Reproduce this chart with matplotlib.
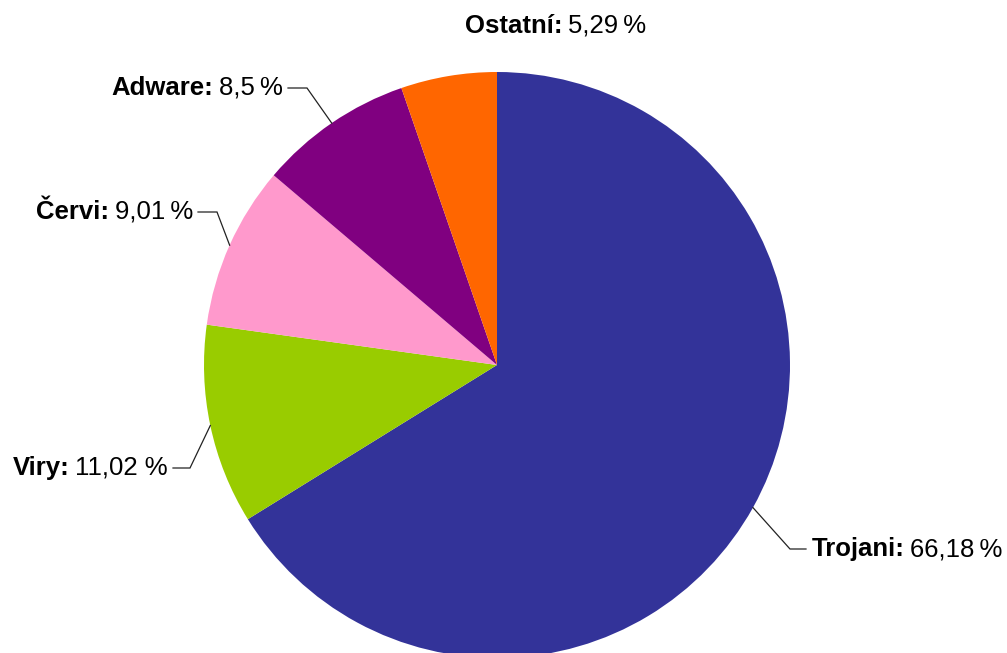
import numpy as np
import matplotlib.pyplot as plt

plt.rcParams['font.family'] = ['Liberation Sans', 'DejaVu Sans']

categories = ["Trojani", "Viry", "Červi", "Adware", "Ostatní"]
shares = [66.18, 11.02, 9.01, 8.5, 5.29]
value_labels = ["66,18\u202f%", "11,02 %", "9,01\u202f%", "8,5\u202f%", "5,29\u202f%"]
colors = ["#333399", "#99cc00", "#ff99cc", "#800080", "#ff6600"]

W, H = 1007, 653
CX, CY, R = 497, 365, 293   # pixels, y measured from top
FS = 18.5

# label layout in pixels (y from top): elbow point, end of horizontal tick, text side
label_layout = {
    "Trojani": ((790, 549), 806, "left"),
    "Viry": ((190, 468), 173, "right"),
    "Červi": ((217, 212), 198, "right"),
    "Adware": ((307, 88), 288, "right"),
    "Ostatní": (None, 562, "center"),
}
ostatni_y = 26


def fy(y):
    return H - y


fig = plt.figure(figsize=(W / 100, H / 100), dpi=100)
ax = fig.add_axes([0, 0, 1, 1])

wedges, _ = ax.pie(shares, colors=colors, startangle=90, counterclock=False,
                   center=(CX, fy(CY)), radius=R, wedgeprops=dict(linewidth=0))
ax.set_xlim(0, W)
ax.set_ylim(0, H)
ax.set_aspect('equal')
ax.axis('off')

for w, cat, val in zip(wedges, categories, value_labels):
    elbow, tick_end, side = label_layout[cat]
    if side == "center":
        ty = fy(ostatni_y) - 7
        lab = ax.text(tick_end, ty, cat + ":", ha="right", va="baseline",
                      fontsize=FS, weight="bold")
        ax.annotate(val, xy=(1, 0), xycoords=lab, xytext=(4, 0),
                    textcoords="offset points", ha="left", va="bottom", fontsize=FS)
        continue
    mid = np.deg2rad((w.theta1 + w.theta2) / 2)
    sx = CX + R * np.cos(mid)
    sy = fy(CY) + R * np.sin(mid)
    ex, ey = elbow[0], fy(elbow[1])
    ax.plot([sx, ex, tick_end], [sy, ey, ey], color="#222222", lw=0.9,
            solid_joinstyle="miter")
    ty = ey - 7
    if side == "left":
        lab = ax.text(tick_end + 6, ty, cat + ":", ha="left", va="baseline",
                      fontsize=FS, weight="bold")
        ax.annotate(val, xy=(1, 0), xycoords=lab, xytext=(4, 0),
                    textcoords="offset points", ha="left", va="bottom", fontsize=FS)
    else:
        v = ax.text(tick_end - 5, ty, val, ha="right", va="baseline", fontsize=FS)
        ax.annotate(cat + ":", xy=(0, 0), xycoords=v, xytext=(-4, 0),
                    textcoords="offset points", ha="right", va="bottom",
                    fontsize=FS, weight="bold")

fig.savefig("out.png", dpi=100)
